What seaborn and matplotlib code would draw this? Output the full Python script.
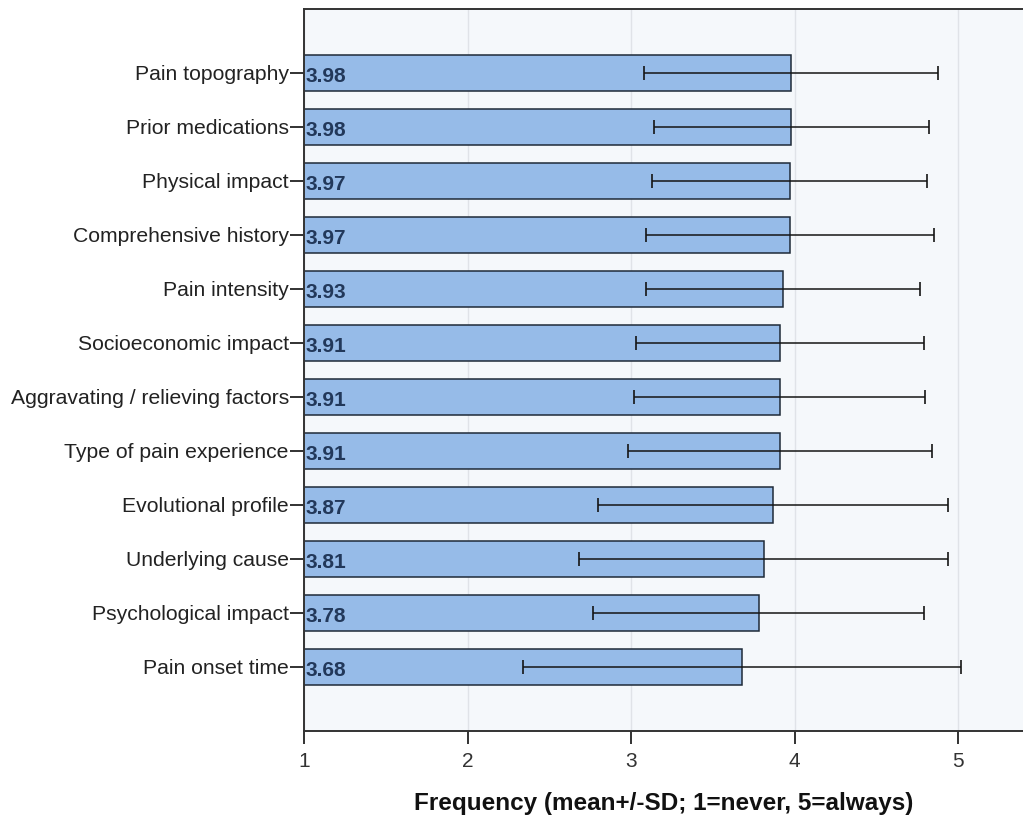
import matplotlib
matplotlib.use("Agg")
import matplotlib.pyplot as plt
import seaborn as sns
import pandas as pd

# Items, mean frequency and standard deviation
items = [
    "Pain topography",
    "Prior medications",
    "Physical impact",
    "Comprehensive history",
    "Pain intensity",
    "Socioeconomic impact",
    "Aggravating / relieving factors",
    "Type of pain experience",
    "Evolutional profile",
    "Underlying cause",
    "Psychological impact",
    "Pain onset time",
]
means = [3.98, 3.98, 3.97, 3.97, 3.93, 3.91, 3.91, 3.91, 3.87, 3.81, 3.78, 3.68]
sds = [0.90, 0.84, 0.84, 0.88, 0.84, 0.88, 0.89, 0.93, 1.07, 1.13, 1.01, 1.34]
x_ticks = [1, 2, 3, 4, 5]
x_label = "Frequency (mean+/-SD; 1=never, 5=always)"

df = pd.DataFrame({"item": items, "mean": means, "sd": sds})

sns.set_theme(style="white")
plt.rcParams["font.family"] = ["Liberation Sans", "DejaVu Sans"]

fig = plt.figure(figsize=(10.23, 8.17), dpi=100)
ax = fig.add_axes([0.2972, 0.1053, 0.7028, 0.8837])
ax.set_facecolor("#f5f8fb")

sns.barplot(data=df, x="mean", y="item", orient="h", color="#96bbe8",
            saturation=1, width=0.65, edgecolor="#1e2a38", linewidth=1.1,
            errorbar=None, ax=ax, zorder=2)

pos = list(range(len(items)))
ax.errorbar(df["mean"], pos, xerr=df["sd"], fmt="none", ecolor="#151515",
            elinewidth=1.1, capsize=5, capthick=1.2, zorder=3)

for i, m in enumerate(means):
    ax.text(1.012, i + 0.06, f"{m:.2f}", ha="left", va="center",
            fontsize=15, fontweight="bold", color="#22385a", zorder=4)

ax.set_xlim(1, 5.397)
ax.set_ylim(len(items) - 1 + 1.185, -1.185)
ax.set_xticks(x_ticks)
ax.set_xticklabels([str(t) for t in x_ticks])

ax.xaxis.grid(True, color="#e0e3e8", linewidth=1, zorder=0)
ax.set_axisbelow(True)

ax.set_ylabel("")
ax.set_xlabel(x_label, fontsize=17.5, fontweight="bold", color="#111111",
              labelpad=15)

ax.tick_params(axis="y", direction="out", length=10, width=1.3,
               color="#222222", pad=1, labelsize=15.2, labelcolor="#222222",
               left=True)
ax.tick_params(axis="x", direction="out", length=9, width=1.3,
               color="#222222", pad=6, labelsize=15, labelcolor="#333333",
               bottom=True)

for side in ["left", "bottom", "top"]:
    ax.spines[side].set_color("#333333")
    ax.spines[side].set_linewidth(1.4)
ax.spines["right"].set_visible(False)

fig.savefig("out.png", dpi=100, facecolor="white")
